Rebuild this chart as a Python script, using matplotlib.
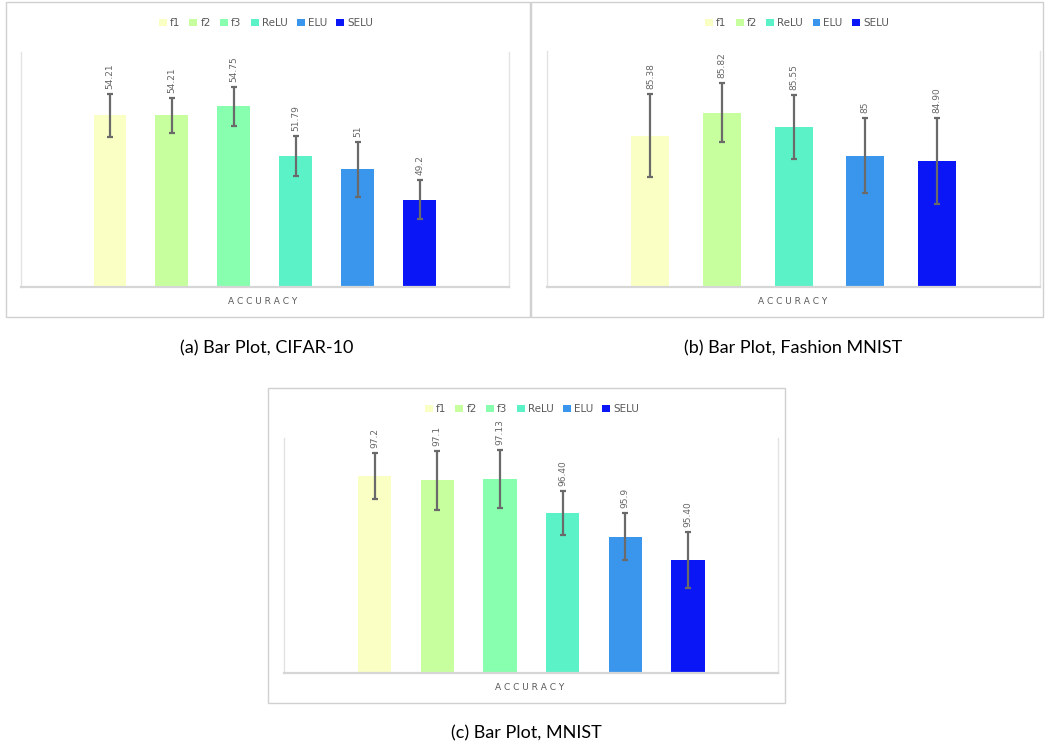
import matplotlib
matplotlib.use("Agg")
import matplotlib.pyplot as plt
from matplotlib.patches import Rectangle, Patch

# ---------------- data ----------------
cifar_labels = ['f1', 'f2', 'f3', 'ReLU', 'ELU', 'SELU']
cifar_acc = [54.21, 54.21, 54.75, 51.79, 51.0, 49.2]
cifar_err = [1.27, 1.03, 1.15, 1.20, 1.63, 1.15]
cifar_text = ['54.21', '54.21', '54.75', '51.79', '51', '49.2']

fashion_labels = ['f1', 'f2', 'ReLU', 'ELU', 'SELU']
fashion_acc = [85.38, 85.82, 85.55, 85.0, 84.90]
fashion_err = [0.79, 0.57, 0.61, 0.71, 0.82]
fashion_text = ['85.38', '85.82', '85.55', '85', '84.90']

mnist_labels = ['f1', 'f2', 'f3', 'ReLU', 'ELU', 'SELU']
mnist_acc = [97.2, 97.1, 97.13, 96.40, 95.9, 95.40]
mnist_err = [0.49, 0.63, 0.62, 0.47, 0.50, 0.60]
mnist_text = ['97.2', '97.1', '97.13', '96.40', '95.9', '95.40']

captions = ['(a) Bar Plot, CIFAR-10', '(b) Bar Plot, Fashion MNIST', '(c) Bar Plot, MNIST']
category = 'ACCURACY'

colors = {'f1': '#FAFFC4', 'f2': '#C8FF9E', 'f3': '#88FFAE',
          'ReLU': '#5CF2C8', 'ELU': '#3A96EC', 'SELU': '#0A16F5'}

W, H = 1045, 751
fig = plt.figure(figsize=(W / 100, H / 100), dpi=100)
fig.patch.set_facecolor('white')

TXT = '#595959'


def fx(x):
    return x / W


def fy(y):
    return 1 - y / H


def border(x0, y0, x1, y1):
    fig.add_artist(Rectangle((fx(x0), fy(y1)), fx(x1) - fx(x0), fy(y0) - fy(y1),
                             transform=fig.transFigure, fill=False,
                             edgecolor='#d0d0d0', lw=1.0))


def panel(box, ylim, labels, acc, err, text, legend_xy, xlabel_xy):
    x0, y0, x1, y1 = box
    ax = fig.add_axes([fx(x0), fy(y1), fx(x1) - fx(x0), fy(y0) - fy(y1)])
    n = len(labels)
    xs = list(range(n))
    ax.bar(xs, acc, width=0.53, color=[colors[l] for l in labels], zorder=2)
    ax.errorbar(xs, acc, yerr=err, fmt='none', ecolor='#6a6a6a', elinewidth=1.6,
                capsize=2.5, capthick=1.6, zorder=3)
    for x, v, e, t in zip(xs, acc, err, text):
        ax.annotate(t, (x, v + e), xytext=(0, 3.5), textcoords='offset points',
                    rotation=90, ha='center', va='bottom', fontsize=6.5,
                    color='#666666', zorder=4)
    ax.set_ylim(*ylim)
    ax.set_xlim(-1.44, n - 1 + 1.44)
    ax.set_xticks([])
    ax.set_yticks([])
    ax.spines['top'].set_visible(False)
    for s in ['left', 'right']:
        ax.spines[s].set_color('#e3e3e3')
        ax.spines[s].set_linewidth(1.0)
    ax.spines['bottom'].set_color('#d6d6d6')
    ax.spines['bottom'].set_linewidth(1.6)
    handles = [Patch(facecolor=colors[l], edgecolor='none', label=l) for l in labels]
    leg = fig.legend(handles=handles, loc='center', ncol=n, frameon=False,
                     bbox_to_anchor=(fx(legend_xy[0]), fy(legend_xy[1])),
                     handlelength=0.75, handleheight=0.75, handletextpad=0.3,
                     columnspacing=0.9, fontsize=7.5)
    for t in leg.get_texts():
        t.set_color(TXT)
    fig.text(fx(xlabel_xy[0]), fy(xlabel_xy[1]), ' '.join(category),
             ha='center', va='center', fontsize=6.5, color=TXT)
    return ax


border(6, 2, 530, 317)
border(531, 2, 1043, 317)
border(268, 388, 785, 703)

panel((20.7, 51.7, 509, 287), (44, 58), cifar_labels, cifar_acc, cifar_err, cifar_text,
      (266, 23), (263, 302))
panel((547.3, 50.7, 1040, 286.7), (82.5, 87), fashion_labels, fashion_acc, fashion_err,
      fashion_text, (797, 23), (793, 302))
panel((284.3, 438, 778.3, 672.7), (93, 98), mnist_labels, mnist_acc, mnist_err, mnist_text,
      (532, 409), (530, 688))

cap_font = dict(fontsize=13, color='black', family=['Lato', 'DejaVu Sans'])
fig.text(fx(267), fy(348), captions[0], ha='center', va='center', **cap_font)
fig.text(fx(793), fy(348), captions[1], ha='center', va='center', **cap_font)
fig.text(fx(526), fy(733), captions[2], ha='center', va='center', **cap_font)

fig.savefig('out.png', dpi=100, facecolor='white')
